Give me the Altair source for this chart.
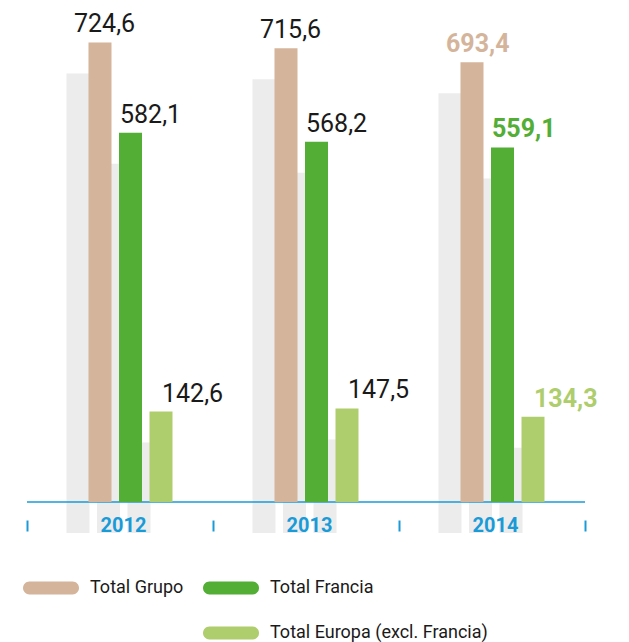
import altair as alt
import pandas as pd

years = ["2012", "2013", "2014"]
series = ["Total Grupo", "Total Francia", "Total Europa (excl. Francia)"]
grupo = [724.6, 715.6, 693.4]
francia = [582.1, 568.2, 559.1]
europa = [142.6, 147.5, 134.3]

TAN = "#d4b49a"
GREEN = "#52ae34"
LGREEN = "#aecd6d"
GRAY = "#ececec"
BLUE = "#1a9bd7"
INK = "#1a1a1a"
series_colors = [TAN, GREEN, LGREEN]

rows = []
for i, y in enumerate(years):
    for s, vals, col in zip(series, [grupo, francia, europa], series_colors):
        v = vals[i]
        rows.append({
            "year": y,
            "series": s,
            "value": v,
            "label": f"{v:.1f}".replace(".", ","),
            "lcolor": col if y == "2014" else INK,
        })
df = pd.DataFrame(rows)

x_enc = alt.X(
    "year:N",
    sort=years,
    scale=alt.Scale(paddingInner=0, paddingOuter=0),
    axis=alt.Axis(
        title=None, domain=False, grid=False, tickBand="extent",
        tickSize=11, tickWidth=2, tickColor=BLUE, offset=18,
        labelPadding=-6, labelBaseline="middle", labelAngle=0,
        labelFont="Roboto", labelFontWeight="bold", labelFontSize=20,
        labelColor=BLUE, labelOffset=3, zindex=1,
    ),
)
def xo(shift=0.0):
    return alt.XOffset(
        "series:N", sort=series,
        scale=alt.Scale(domain=series, range=[61.5 + shift, 145.5 + shift],
                        paddingInner=0.246, paddingOuter=0),
    )
y_enc = alt.Y("value:Q", scale=alt.Scale(domain=[0, 779], nice=False, zero=True), axis=None)

base = alt.Chart(df)

PATH = "M-0.77,-0.23L0.77,-0.23A0.23,0.23,0,0,1,0.77,0.23L-0.77,0.23A0.23,0.23,0,0,1,-0.77,-0.23Z"
legend_common = dict(
    orient="none", direction="vertical", title=None, padding=0,
    symbolType=PATH, symbolSize=3136, symbolStrokeWidth=0, symbolOpacity=1,
    labelFont="Roboto", labelFontSize=18, labelColor=INK, labelLimit=0,
    labelOffset=11, rowPadding=8,
)

shadows = base.mark_bar(color=GRAY, yOffset=31).encode(
    x=x_enc, xOffset=xo(-22), y=y_enc
)

zero = alt.Chart(pd.DataFrame({"zero": [0]})).mark_rule(color=BLUE, strokeWidth=1.3).encode(
    y=alt.Y("zero:Q", scale=alt.Scale(domain=[0, 779], nice=False), axis=None)
)

tan_bars = base.transform_filter(alt.datum.series == "Total Grupo").mark_bar().encode(
    x=x_enc, xOffset=xo(), y=y_enc,
    color=alt.Color("series:N", scale=alt.Scale(domain=[series[0]], range=[TAN]),
                    legend=alt.Legend(legendX=-4, legendY=552, **legend_common)),
)
green_bars = base.transform_filter(alt.datum.series != "Total Grupo").mark_bar().encode(
    x=x_enc, xOffset=xo(), y=y_enc,
    color=alt.Color("series:N", scale=alt.Scale(domain=series[1:], range=[GREEN, LGREEN]),
                    legend=alt.Legend(legendX=176, legendY=552, **legend_common)),
)

def labels(filt, dx, bold):
    return base.transform_filter(filt).mark_text(
        align="left", baseline="alphabetic", dy=-10, dx=dx,
        font="Roboto", fontSize=25, fontWeight="bold" if bold else "normal",
    ).encode(
        x=x_enc, xOffset=xo(), y=y_enc, text="label:N",
        color=alt.Color("lcolor:N", scale=None, legend=None),
    )

t1 = labels((alt.datum.series == "Total Grupo") & (alt.datum.year != "2014"), -14.5, False)
t2 = labels((alt.datum.series == "Total Grupo") & (alt.datum.year == "2014"), -14.5, True)
t3 = labels((alt.datum.series != "Total Grupo") & (alt.datum.year != "2014"), -10.5, False)
t4 = labels((alt.datum.series != "Total Grupo") & (alt.datum.year == "2014"), -10.5, True)

chart = alt.layer(shadows, zero, tan_bars, green_bars, t1, t2, t3, t4).resolve_scale(
    color="independent", xOffset="independent"
).properties(
    width=558, height=494,
    padding={"left": 19, "top": 0, "right": 36, "bottom": 140},
    autosize=alt.AutoSizeParams(type="none"),
).configure_view(stroke=None)

chart.save("out.html", embed_options={"renderer": "svg", "actions": False})
